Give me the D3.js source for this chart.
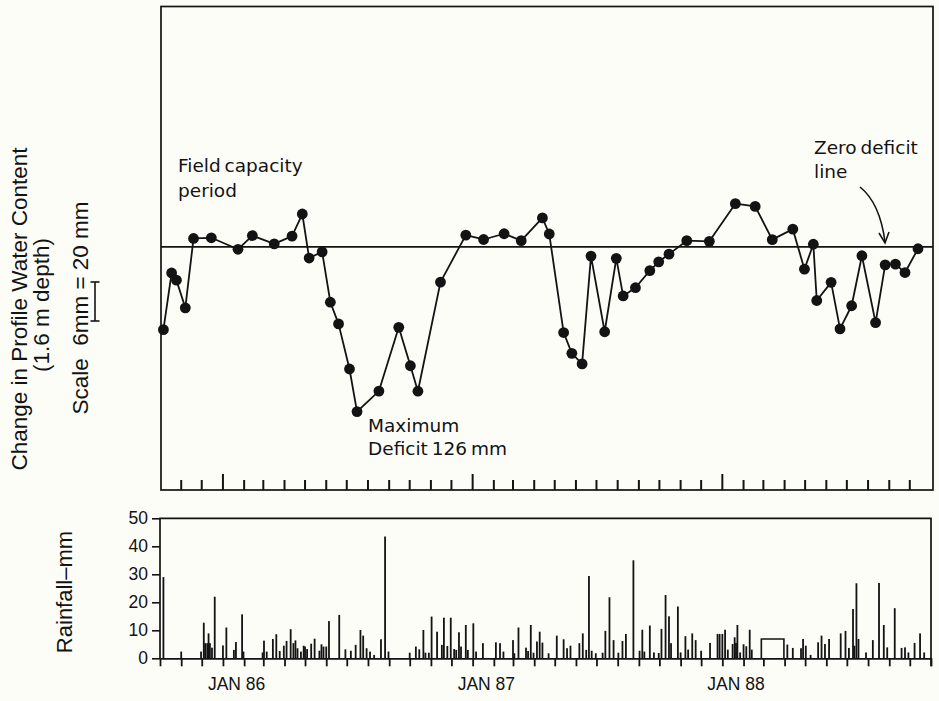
<!DOCTYPE html>
<html>
<head>
<meta charset="utf-8">
<script src="https://cdn.jsdelivr.net/npm/d3@7"></script>
<style>
  html, body { margin: 0; padding: 0; background: #fdfdf8; }
  svg { display: block; }
</style>
</head>
<body>
<svg id="chart" width="939" height="701"></svg>
<script>
// Days are counted from 1 October 1985.
// Change in profile water content (mm, 1.6 m depth) at each survey: [day, mm]
const soilWater = [
  [5,-63.3],[17,-19.9],[24,-25.4],[37,-46.6],[49,6.5],[75,7.0],[114,-1.8],[135,8.7],[167,2.4],[193,8.3],
  [208,25.2],[218,-8.5],[237,-3.8],[249,-42.3],[261,-58.9],[277,-93.4],[288,-126],[320,-110.3],[349,-61.5],[366,-90.9],
  [377,-110.4],[410,-26.9],[447,9.0],[473,5.7],[503,10.1],[528,4.8],[559,22.2],[569,9.9],[590,-65.5],[602,-81.4],
  [617,-89.5],[630,-7.0],[650,-64.9],[667,-8.7],[677,-37.5],[695,-31.2],[716,-18.1],[729,-11.4],[744,-5.5],[770,4.8],
  [803,4.3],[841,33.1],[870,31.0],[895,5.6],[925,13.6],[942,-17.0],[955,2.1],[960,-41.0],[981,-27.1],[994,-62.7],
  [1011,-45.0],[1026,-6.7],[1046,-57.9],[1060,-13.7],[1075,-13.2],[1089,-19.6],[1108,-1.4]
];

// Daily rainfall (mm): [day, mm]
const rainfall = [
  [5,29],[31,2.4],[60,2.4],[64,12.7],[66,5.4],[69,5.4],[71,8.9],[73,5.4],[76,3.8],[80,22],
  [92,4.6],[97,11],[108,3],[111,5.8],[120,15.7],[122,2.4],[150,2.1],[152,6.3],[156,2.4],[165,6.9],
  [170,8.6],[175,2.6],[181,4.5],[185,6.2],[191,10.4],[195,5.4],[198,6.4],[201,3.6],[206,2.4],[210,4.5],
  [212,4.2],[215,3.3],[221,5.2],[226,7],[233,2.7],[236,5],[239,4.2],[243,4.2],[247,13.3],[262,15.5],
  [271,3.2],[279,2.7],[286,4.8],[293,10.1],[297,8.1],[302,3.6],[307,2.4],[313,1.2],[323,6.8],[329,43.5],
  [334,2.4],[365,2],[374,4.2],[379,3.2],[385,10.1],[388,2],[393,2],[397,14.9],[405,9.5],[412,4.8],
  [415,14.5],[420,4.4],[425,14.5],[430,3.3],[433,3],[437,9.3],[440,4.2],[447,11.9],[450,3],[458,12.5],
  [462,2.4],[472,5.4],[491,5.7],[497,5.4],[502,2.4],[516,6.5],[518,1.8],[524,11],[535,3.8],[538,2.6],
  [542,11.9],[546,2],[551,6],[555,9.5],[559,5.6],[568,1.8],[580,8.1],[590,6.8],[595,3.6],[600,4.5],
  [613,5.4],[618,8.9],[623,3],[627,29.4],[631,2.7],[637,1.8],[647,2],[651,9.8],[657,21.8],[663,6.5],
  [670,2],[676,6.2],[681,8.7],[692,35],[701,2.7],[705,10.2],[708,2.4],[716,11.7],[722,2.1],[729,1.9],
  [733,10.5],[739,22.6],[744,15],[747,5.4],[757,18.5],[761,2.1],[768,7.9],[772,3.1],[778,8.9],[783,6.5],
  [791,2.7],[804,5.5],[815,8.7],[818,8.7],[822,8.7],[826,10.2],[830,3.1],[837,5.1],[840,7.5],[842,5.5],
  [844,11.9],[848,2.1],[853,5],[857,4.3],[862,10.2],[865,3.1],[917,4.9],[925,3.7],[937,3.6],[940,6.9],
  [944,4.5],[951,1.2],[962,5.7],[967,8.1],[972,5.1],[978,6.9],[995,8.9],[1002,9.8],[1007,3.7],[1013,17.6],
  [1015,4.5],[1018,26.8],[1021,6.9],[1032,2.1],[1042,6.5],[1051,26.9],[1058,11.9],[1063,3.9],[1074,17.9],[1084,3.7],
  [1089,3.9],[1094,2.1],[1103,5.5],[1111,8.9],[1117,2.1]
];

// Period with only a mean daily figure: [first day, last day, mm per day]
const rainGap = [879, 912, 6.9];

const rainTicks = [0, 10, 20, 30, 40, 50];
const yearLabels = ["JAN 86", "JAN 87", "JAN 88"];
const yearStarts = [new Date(1986, 0, 1), new Date(1987, 0, 1), new Date(1988, 0, 1)];

const ink = "#131313";
const svg = d3.select("#chart");

const start = new Date(1985, 9, 1);
const end = new Date(1988, 10, 1);
const dayToDate = n => d3.timeDay.offset(start, n);

const x = d3.scaleTime().domain([start, end]).range([160, 931]);

// ---------- upper panel: soil water ----------
const upper = { y0: 6.5, y1: 490 };
const y = d3.scaleLinear().domain([-186, 184]).range([upper.y1, upper.y0]);

svg.append("rect")
  .attr("x", 161).attr("y", upper.y0)
  .attr("width", 772).attr("height", upper.y1 - upper.y0)
  .attr("fill", "none").attr("stroke", ink).attr("stroke-width", 1.7);

// monthly ticks along the inside of the lower edge, January ticks taller
const months = d3.timeMonth.range(new Date(1985, 10, 1), end);
svg.append("g").selectAll("line").data(months).join("line")
  .attr("x1", d => x(d)).attr("x2", d => x(d))
  .attr("y1", upper.y1)
  .attr("y2", d => upper.y1 - (d.getMonth() === 0 ? 16 : 10))
  .attr("stroke", ink).attr("stroke-width", 2);

// zero deficit line
svg.append("line")
  .attr("x1", 161).attr("x2", 933)
  .attr("y1", y(0)).attr("y2", y(0))
  .attr("stroke", ink).attr("stroke-width", 1.7);

const line = d3.line().x(d => x(dayToDate(d[0]))).y(d => y(d[1]));
svg.append("path").datum(soilWater)
  .attr("d", line).attr("fill", "none")
  .attr("stroke", ink).attr("stroke-width", 1.8).attr("stroke-linejoin", "round");

svg.append("g").selectAll("circle").data(soilWater).join("circle")
  .attr("cx", d => x(dayToDate(d[0]))).attr("cy", d => y(d[1]))
  .attr("r", 5.4).attr("fill", ink);

// annotations
const note = (t, px, py) => svg.append("text")
  .attr("x", px).attr("y", py)
  .attr("font-family", "DejaVu Sans, sans-serif").attr("font-size", 18.5)
  .attr("word-spacing", -2).attr("fill", ink).text(t);
note("Field capacity", 178, 171.5);
note("period", 178, 196.5);
note("Maximum", 368, 431.5);
note("Deficit 126 mm", 368, 455);
note("Zero deficit", 814, 154);
note("line", 814, 178);

// arrow pointing at the zero line
svg.append("path")
  .attr("d", "M860,187 Q880,203 885,242")
  .attr("fill", "none").attr("stroke", ink).attr("stroke-width", 1.6);
svg.append("path")
  .attr("d", "M879,233 L885,243 L889,232")
  .attr("fill", "none").attr("stroke", ink).attr("stroke-width", 1.6);

// axis titles
const vtext = (t, px, py, fs) => svg.append("text")
  .attr("transform", `translate(${px},${py}) rotate(-90)`)
  .attr("text-anchor", "middle")
  .attr("font-family", "Liberation Sans, Arial, sans-serif")
  .attr("font-size", fs).attr("fill", ink)
  .style("white-space", "pre").text(t);
vtext("Change in Profile Water Content", 27, 309, 22.5);
vtext("(1.6 m depth)", 49, 305, 22.5);
vtext("Scale  6mm = 20 mm", 87.5, 308, 22.5);

// scale bar
const sb = svg.append("g").attr("stroke", ink).attr("stroke-width", 1.6);
sb.append("line").attr("x1", 95).attr("x2", 95).attr("y1", 282).attr("y2", 321);
sb.append("line").attr("x1", 90.5).attr("x2", 99.5).attr("y1", 282).attr("y2", 282);
sb.append("line").attr("x1", 90.5).attr("x2", 99.5).attr("y1", 321).attr("y2", 321);

// ---------- lower panel: rainfall ----------
const lower = { y0: 518.3, y1: 658.3 };
const yr = d3.scaleLinear().domain([0, 50]).range([lower.y1, lower.y0]);

svg.append("path")
  .attr("d", `M160,${lower.y1} V${lower.y0} H931 V${lower.y1 + 8}`)
  .attr("fill", "none").attr("stroke", ink).attr("stroke-width", 1.7);

svg.append("g").selectAll("rect").data(rainfall).join("rect")
  .attr("x", d => x(dayToDate(d[0])) - 0.9)
  .attr("width", 1.8)
  .attr("y", d => yr(d[1]))
  .attr("height", d => yr(0) - yr(d[1]))
  .attr("fill", ink);

svg.append("path")
  .attr("d", `M${x(dayToDate(rainGap[0]))},${yr(0)} V${yr(rainGap[2])} H${x(dayToDate(rainGap[1]))} V${yr(0)}`)
  .attr("fill", "none").attr("stroke", ink).attr("stroke-width", 1.6);

const yAxis = svg.append("g")
  .attr("transform", "translate(160,0)")
  .call(d3.axisLeft(yr).tickValues(rainTicks).tickSize(8).tickSizeOuter(0).tickPadding(4));
yAxis.select(".domain").remove();
yAxis.selectAll("line").attr("stroke", ink).attr("stroke-width", 1.6);
yAxis.selectAll("text")
  .attr("font-family", "Liberation Sans, Arial, sans-serif")
  .attr("font-size", 17.5).attr("fill", ink);

const xAxis = svg.append("g")
  .attr("transform", `translate(0,${lower.y1})`)
  .call(d3.axisBottom(x).ticks(d3.timeMonth.every(1)).tickSize(8).tickSizeOuter(0).tickFormat(""));
xAxis.select(".domain").attr("stroke", ink).attr("stroke-width", 1.7);
xAxis.selectAll("line").attr("stroke", ink).attr("stroke-width", 1.8);

svg.append("g").selectAll("text").data(yearLabels).join("text")
  .attr("x", (d, i) => x(d3.timeDay.offset(yearStarts[i], 20)))
  .attr("y", 690)
  .attr("text-anchor", "middle")
  .attr("font-family", "Liberation Sans, Arial, sans-serif")
  .attr("font-size", 17.5).attr("fill", ink)
  .text(d => d);

vtext("Rainfall\u2013mm", 72, 592, 22);
</script>
</body>
</html>
